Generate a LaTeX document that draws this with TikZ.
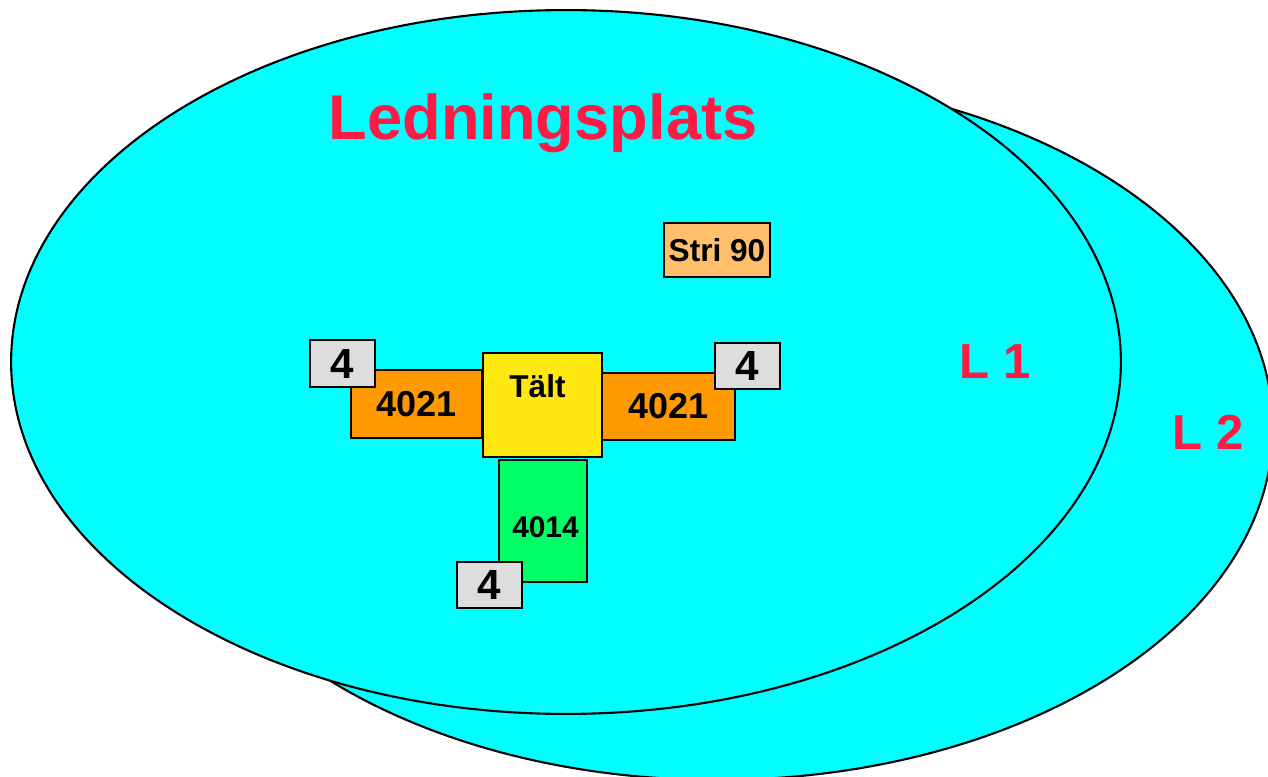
\documentclass[tikz,border=0pt]{standalone}
\usepackage{fontspec}
\setmainfont{Liberation Sans}
\usepackage{tikz}
\usetikzlibrary{positioning}

\definecolor{areacyan}{HTML}{00FFFF}
\definecolor{signred}{HTML}{FF1A45}
\definecolor{taltyellow}{HTML}{FFE711}
\definecolor{wingorange}{HTML}{FF9900}
\definecolor{wallgreen}{HTML}{00FF66}
\definecolor{unitgray}{HTML}{DDDDDD}
\definecolor{striorange}{HTML}{FFBF6B}

\tikzset{
    area/.style={draw=black, line width=1.2pt, fill=areacyan},
    box/.style={draw=black, line width=1.1pt, inner sep=0pt, font=\bfseries},
    unit/.style={box, fill=unitgray, minimum width=1.30cm, minimum height=0.93cm, font=\bfseries\fontsize{24}{24}\selectfont},
    bigred/.style={text=signred, font=\bfseries\fontsize{#1}{#1}\selectfont, inner sep=0pt}
}

\begin{document}
\begin{tikzpicture}[x=0.02cm, y=-0.02cm]
    \useasboundingbox (0,0) rectangle (1268,777);

    % Two areas
    \draw[area] (717,428) ellipse [x radius=11.12cm, y radius=7.04cm];
    \draw[area] (566,362) ellipse [x radius=11.1cm, y radius=7.04cm];

    % Area labels
    \node[bigred=36] (title) at (543,123) {Ledningsplats};
    \node[bigred=28] (l1) at (995,362) {L 1};
    \node[bigred=28] (l2) at (1208,432) {L 2};

    % Tent with wings
    \node[box, fill=wingorange, minimum width=2.62cm, minimum height=1.36cm,
          font=\bfseries\fontsize{20.5}{20.5}\selectfont] (leftwing) at (416.5,404) {4021};
    \node[box, fill=wingorange, minimum width=2.66cm, minimum height=1.34cm,
          font=\bfseries\fontsize{20.5}{20.5}\selectfont] (rightwing) at (668.5,406.5) {4021};
    \node[box, fill=taltyellow, minimum width=2.38cm, minimum height=2.08cm] (talt) at (542.5,405) {};
    \node[inner sep=0pt, font=\bfseries\fontsize{18}{18}\selectfont] (talttext)
          [below=0.44cm of talt.north, xshift=-0.1cm] {Tält};
    \node[box, fill=wallgreen, minimum width=1.76cm, minimum height=2.44cm] (back) at (543,521) {};
    \node[inner sep=0pt, font=\bfseries\fontsize{17}{17}\selectfont] (backtext)
          [below=1.15cm of back.north, xshift=0.05cm] {4014};

    % Units
    \node[unit] (unitleft) at (342.5,363.5) {4};
    \node[unit] (unitright) at (747.5,366) {4};
    \node[unit] (unitbottom) at (489.5,585) {4};

    % Stri
    \node[box, fill=striorange, minimum width=2.12cm, minimum height=1.08cm,
          font=\bfseries\fontsize{18}{18}\selectfont] (stri) at (717,250) {Stri 90};

\end{tikzpicture}
\end{document}
